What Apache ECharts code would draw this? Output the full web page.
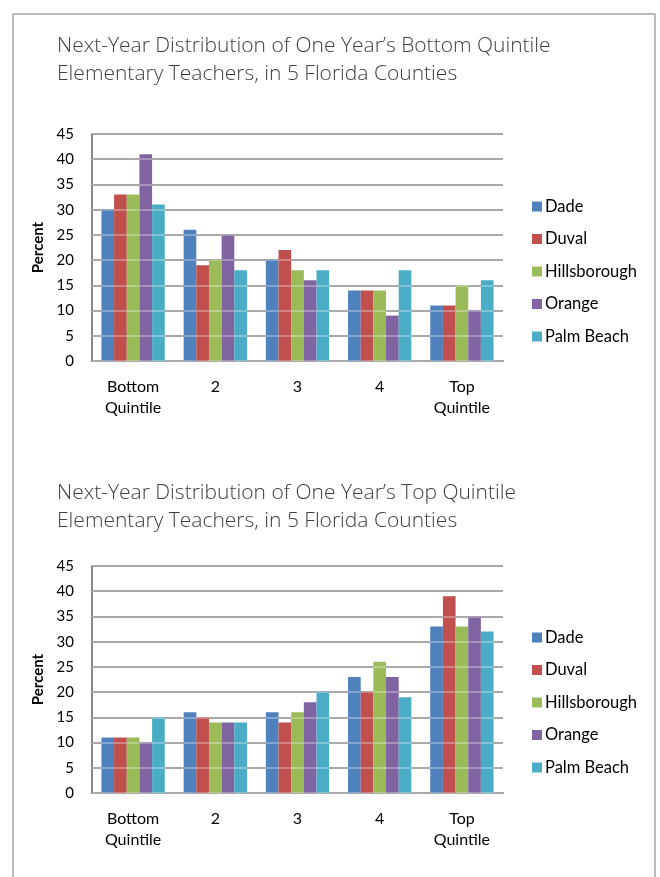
<!DOCTYPE html>
<html>
<head>
<meta charset="utf-8">
<script src="https://cdn.jsdelivr.net/npm/echarts@6/dist/echarts.min.js"></script>
<style>
  html, body { margin: 0; padding: 0; background: #fff; }
  #chart { width: 660px; height: 877px; }
</style>
</head>
<body>
<div id="chart"></div>
<script>
// categories and counties
const quintiles = ['Bottom\nQuintile', '2', '3', '4', 'Top\nQuintile']
const counties = ['Dade', 'Duval', 'Hillsborough', 'Orange', 'Palm Beach']
const colors = ['#4F81BD', '#C0504D', '#9BBB59', '#8064A2', '#4BACC6']
const yTicks = [0, 5, 10, 15, 20, 25, 30, 35, 40, 45]

// top chart: one year's bottom quintile teachers
const bottomDade = [30, 26, 20, 14, 11]
const bottomDuval = [33, 19, 22, 14, 11]
const bottomHills = [33, 20, 18, 14, 15]
const bottomOrange = [41, 25, 16, 9, 10]
const bottomPalm = [31, 18, 18, 18, 16]

// lower chart: one year's top quintile teachers
const topDade = [11, 16, 16, 23, 33]
const topDuval = [11, 15, 14, 20, 39]
const topHills = [11, 14, 16, 26, 33]
const topOrange = [10, 14, 18, 23, 35]
const topPalm = [15, 14, 20, 19, 32]

const bottomData = [bottomDade, bottomDuval, bottomHills, bottomOrange, bottomPalm]
const topData = [topDade, topDuval, topHills, topOrange, topPalm]

const font = 'Lato, "Open Sans", sans-serif'
const gridTops = [134, 566]

function xAxisFor (i) {
  return {
    type: 'category',
    gridIndex: i,
    data: quintiles,
    axisLine: { lineStyle: { color: '#868686', width: 2 } },
    axisTick: { length: 5, lineStyle: { color: '#868686', width: 2 } },
    axisLabel: { color: '#000', fontFamily: font, fontSize: 16, lineHeight: 21, margin: 15 }
  }
}

function yAxisFor (i) {
  return {
    type: 'value',
    gridIndex: i,
    min: yTicks[0],
    max: yTicks[yTicks.length - 1],
    interval: 5,
    name: 'Percent',
    nameLocation: 'middle',
    nameGap: 42,
    nameTextStyle: { color: '#000', fontFamily: font, fontSize: 15, fontWeight: 'bold' },
    axisLine: { show: true, lineStyle: { color: '#868686', width: 2 } },
    axisTick: { show: false },
    axisLabel: { color: '#000', fontFamily: font, fontSize: 15, margin: 18 },
    splitLine: { lineStyle: { color: '#858585', width: 2 } }
  }
}

// light overlay lines that run across the bars, like the original
function overlayAxisFor (i) {
  return {
    type: 'value',
    gridIndex: i,
    min: yTicks[0],
    max: yTicks[yTicks.length - 1],
    interval: 5,
    z: 10,
    axisLine: { show: false },
    axisTick: { show: false },
    axisLabel: { show: false },
    splitLine: { lineStyle: { color: 'rgba(255,255,255,0.4)', width: 1.5 } }
  }
}

function seriesFor (data, i) {
  return counties.map((name, k) => ({
    name: name,
    type: 'bar',
    xAxisIndex: i,
    yAxisIndex: i,
    data: data[k],
    barGap: 0,
    barCategoryGap: '23%',
    itemStyle: { color: colors[k] }
  }))
}

function legendFor (top) {
  return {
    orient: 'vertical',
    left: 527,
    top: top,
    data: counties,
    itemWidth: 10,
    itemHeight: 10,
    itemGap: 15.5,
    icon: 'rect',
    textStyle: { color: '#000', fontFamily: font, fontSize: 16.5, lineHeight: 16, padding: [0, 0, 0, -2] }
  }
}

const titleStyle = { color: '#404040', fontFamily: '"Open Sans", sans-serif', fontSize: 21, fontWeight: 300, lineHeight: 28 }

const option = {
  color: colors,
  animation: false,
  title: [
    { text: 'Next-Year Distribution of One Year\u2019s Bottom Quintile\nElementary Teachers, in 5 Florida Counties', left: 52, top: 27, textStyle: titleStyle },
    { text: 'Next-Year Distribution of One Year\u2019s Top Quintile\nElementary Teachers, in 5 Florida Counties', left: 52, top: 474, textStyle: titleStyle }
  ],
  legend: [legendFor(193), legendFor(624)],
  grid: gridTops.map(t => ({ left: 92, width: 411, top: t, height: 227 })),
  xAxis: [xAxisFor(0), xAxisFor(1)],
  yAxis: [yAxisFor(0), yAxisFor(1), overlayAxisFor(0), overlayAxisFor(1)],
  series: seriesFor(bottomData, 0).concat(seriesFor(topData, 1)),
  graphic: [
    { type: 'polyline', shape: { points: [[13, 877], [13, 14], [655, 14], [655, 877]] }, style: { stroke: '#a6a6a6', lineWidth: 1.5, fill: null } }
  ]
}

const chart = echarts.init(document.getElementById('chart'))
chart.setOption(option)
</script>
</body>
</html>
